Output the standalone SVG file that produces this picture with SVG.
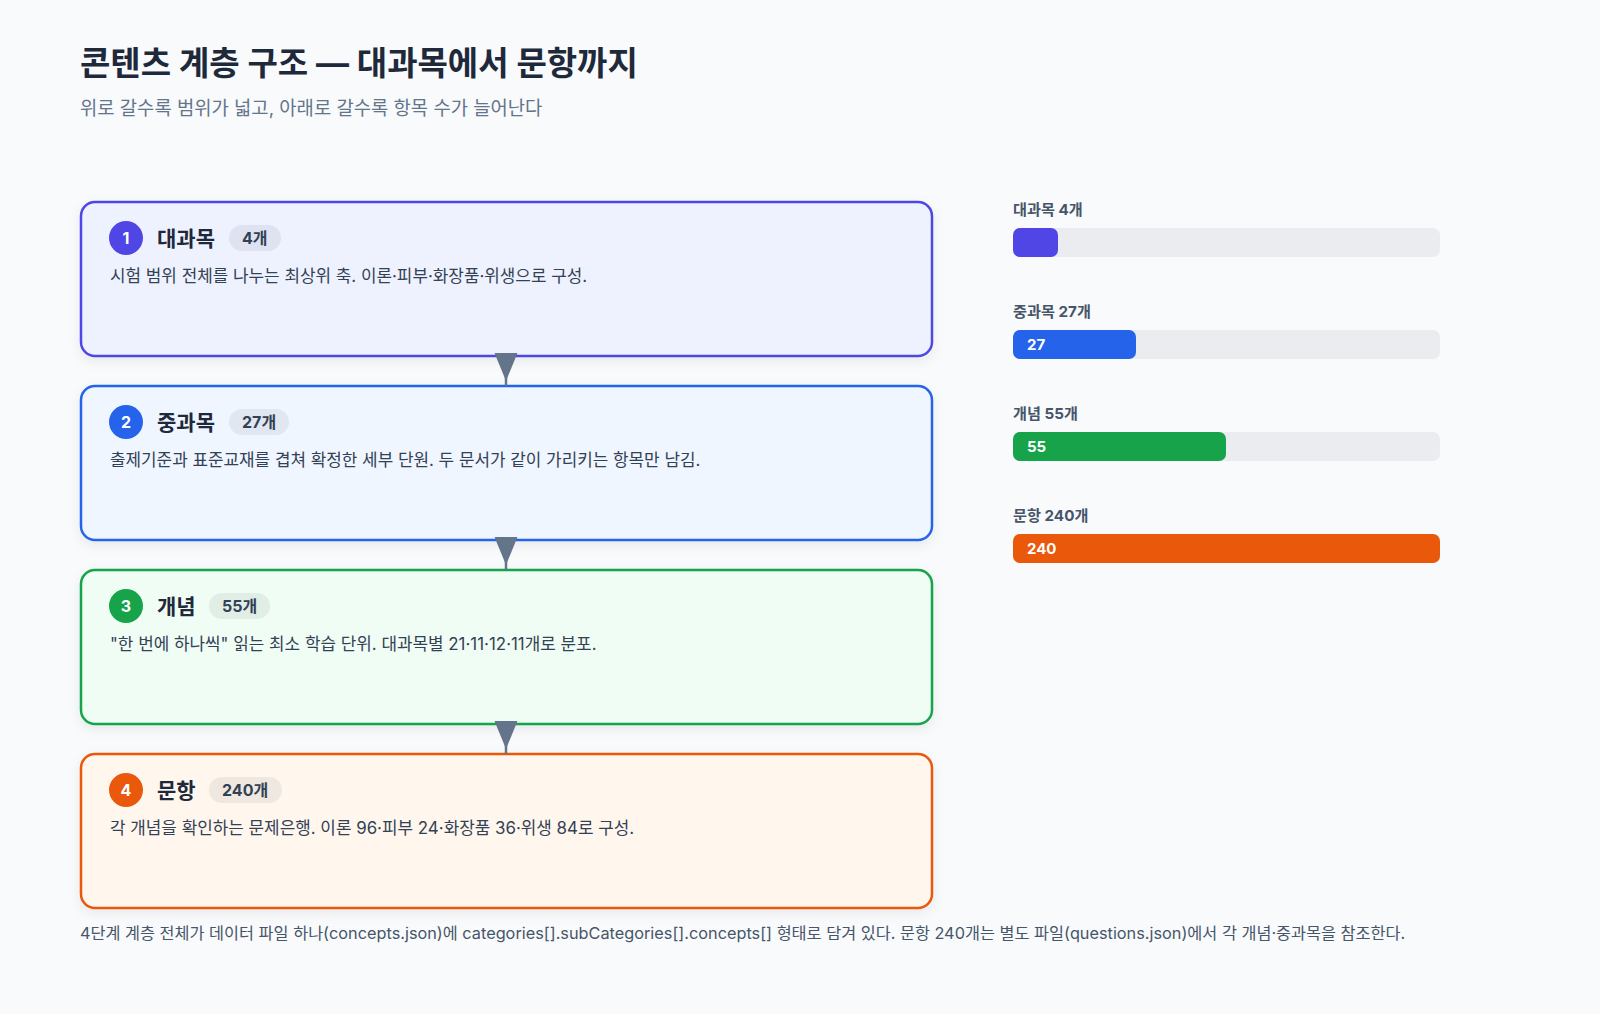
<svg xmlns="http://www.w3.org/2000/svg" width="1600" height="1014" viewBox="0 0 1600 1014">
<defs>
<style>
text{font-family:"Inter","Noto Sans CJK KR","Noto Sans",sans-serif;}
.title{font-size:33px;font-weight:700;fill:#1e293b;}
.sub{font-size:18.8px;fill:#64748b;}
.box{stroke-width:2.5;filter:url(#sh);}
.num{font-size:16px;font-weight:700;fill:#ffffff;text-anchor:middle;}
.name{font-size:21px;font-weight:700;fill:#1e293b;}
.badge{fill:rgba(15,23,42,0.065);}
.btxt{font-size:16px;font-weight:700;fill:#334155;}
.desc{font-size:16.9px;fill:#334155;}
.blabel{font-size:15.2px;font-weight:700;fill:#475569;}
.track{fill:#eaecf0;}
.bnum{font-size:15px;font-weight:700;fill:#ffffff;}
.foot{font-size:16.3px;fill:#475569;}
.conn{stroke:#64748b;stroke-width:2.5;fill:none;}
</style>
<filter id="sh" x="-5%" y="-10%" width="110%" height="130%">
<feDropShadow dx="0" dy="4" stdDeviation="6" flood-color="#0f172a" flood-opacity="0.07"/>
</filter>
<marker id="arr" markerUnits="userSpaceOnUse" markerWidth="34" markerHeight="24" viewBox="0 0 34 24" refX="33" refY="12" orient="auto">
<path d="M0,0.5 L28,12 L0,23.5 z" fill="#64748b"/>
</marker>
</defs>
<rect x="0" y="0" width="1600" height="1014" fill="#f8fafc"/>

<g id="header">
<text class="title" x="80" y="75">콘텐츠 계층 구조 — 대과목에서 문항까지</text>
<text class="sub" x="80" y="115">위로 갈수록 범위가 넓고, 아래로 갈수록 항목 수가 늘어난다</text>
</g>

<g id="node-1">
<rect class="box" x="81" y="202" width="851" height="154" rx="14" fill="#eef2ff" stroke="#4f46e5"/>
<circle cx="126" cy="238" r="17" fill="#4f46e5"/>
<text class="num" x="126" y="244">1</text>
<text class="name" x="157" y="246">대과목</text>
<rect class="badge" x="229" y="225" width="52" height="26" rx="13"/>
<text class="btxt" x="242" y="244">4개</text>
<text class="desc" x="110" y="282">시험 범위 전체를 나누는 최상위 축. 이론·피부·화장품·위생으로 구성.</text>
</g>

<g id="node-2">
<rect class="box" x="81" y="386" width="851" height="154" rx="14" fill="#eff6ff" stroke="#2563eb"/>
<circle cx="126" cy="422" r="17" fill="#2563eb"/>
<text class="num" x="126" y="428">2</text>
<text class="name" x="157" y="430">중과목</text>
<rect class="badge" x="229" y="409" width="60" height="26" rx="13"/>
<text class="btxt" x="242" y="428">27개</text>
<text class="desc" x="110" y="466">출제기준과 표준교재를 겹쳐 확정한 세부 단원. 두 문서가 같이 가리키는 항목만 남김.</text>
</g>

<g id="node-3">
<rect class="box" x="81" y="570" width="851" height="154" rx="14" fill="#f0fdf4" stroke="#16a34a"/>
<circle cx="126" cy="606" r="17" fill="#16a34a"/>
<text class="num" x="126" y="612">3</text>
<text class="name" x="157" y="614">개념</text>
<rect class="badge" x="209" y="593" width="61" height="26" rx="13"/>
<text class="btxt" x="222" y="612">55개</text>
<text class="desc" x="110" y="650">"한 번에 하나씩" 읽는 최소 학습 단위. 대과목별 21·11·12·11개로 분포.</text>
</g>

<g id="node-4">
<rect class="box" x="81" y="754" width="851" height="154" rx="14" fill="#fff7ed" stroke="#ea580c"/>
<circle cx="126" cy="790" r="17" fill="#ea580c"/>
<text class="num" x="126" y="796">4</text>
<text class="name" x="157" y="798">문항</text>
<rect class="badge" x="209" y="777" width="73" height="26" rx="13"/>
<text class="btxt" x="222" y="796">240개</text>
<text class="desc" x="110" y="834">각 개념을 확인하는 문제은행. 이론 96·피부 24·화장품 36·위생 84로 구성.</text>
</g>

<g id="connectors">
<line class="conn" x1="506" y1="353" x2="506" y2="386" marker-end="url(#arr)"/>
<line class="conn" x1="506" y1="537" x2="506" y2="570" marker-end="url(#arr)"/>
<line class="conn" x1="506" y1="721" x2="506" y2="754" marker-end="url(#arr)"/>
</g>

<g id="bar-1">
<text class="blabel" x="1013" y="215">대과목 4개</text>
<rect class="track" x="1013" y="228" width="427" height="29" rx="7"/>
<rect x="1013" y="228" width="45" height="29" rx="7" fill="#4f46e5"/>
</g>
<g id="bar-2">
<text class="blabel" x="1013" y="317">중과목 27개</text>
<rect class="track" x="1013" y="330" width="427" height="29" rx="7"/>
<rect x="1013" y="330" width="123" height="29" rx="7" fill="#2563eb"/>
<text class="bnum" x="1027" y="350">27</text>
</g>
<g id="bar-3">
<text class="blabel" x="1013" y="419">개념 55개</text>
<rect class="track" x="1013" y="432" width="427" height="29" rx="7"/>
<rect x="1013" y="432" width="213" height="29" rx="7" fill="#16a34a"/>
<text class="bnum" x="1027" y="452">55</text>
</g>
<g id="bar-4">
<text class="blabel" x="1013" y="521">문항 240개</text>
<rect class="track" x="1013" y="534" width="427" height="29" rx="7"/>
<rect x="1013" y="534" width="427" height="29" rx="7" fill="#ea580c"/>
<text class="bnum" x="1027" y="554">240</text>
</g>

<g id="footer">
<text class="foot" x="80" y="939">4단계 계층 전체가 데이터 파일 하나(concepts.json)에 categories[].subCategories[].concepts[] 형태로 담겨 있다. 문항 240개는 별도 파일(questions.json)에서 각 개념·중과목을 참조한다.</text>
</g>
</svg>
